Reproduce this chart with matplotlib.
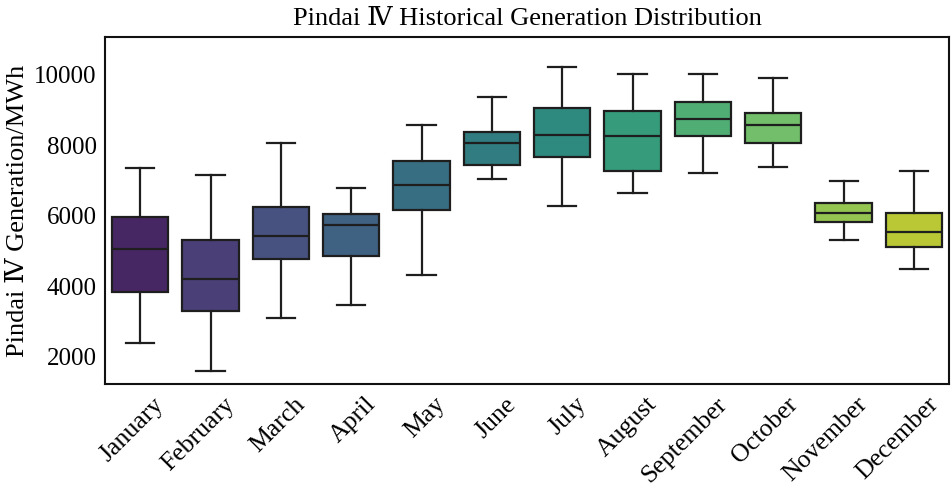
import matplotlib
matplotlib.use('Agg')
import matplotlib.pyplot as plt
import matplotlib.transforms as mtransforms
import seaborn as sns

months = ['January', 'February', 'March', 'April', 'May', 'June',
          'July', 'August', 'September', 'October', 'November', 'December']
whis_low = [2405, 1600, 3116, 3475, 4337, 7036, 6288, 6638, 7206, 7386, 5313, 4498]
q1 = [3854, 3305, 4763, 4867, 6165, 7453, 7670, 7273, 8277, 8068, 5814, 5114]
medians = [5047, 4223, 5436, 5729, 6884, 8059, 8295, 8277, 8741, 8570, 6080, 5540]
q3 = [5956, 5313, 6259, 6051, 7557, 8381, 9063, 8977, 9233, 8911, 6364, 6089]
whis_high = [7367, 7159, 8078, 6799, 8580, 9384, 10227, 10019, 10019, 9915, 6998, 7263]


def make_plot():
    serif = ['Liberation Serif', 'DejaVu Serif']
    plt.rcParams['font.family'] = serif

    fig = plt.figure(figsize=(9.51, 4.88), dpi=100)
    ax = fig.add_axes([0.1104, 0.213, 0.8876, 0.711])

    stats = []
    for i, m in enumerate(months):
        stats.append(dict(label=m, whislo=whis_low[i], q1=q1[i], med=medians[i],
                          q3=q3[i], whishi=whis_high[i], fliers=[]))

    line_col = '#1e1e1e'
    bp = ax.bxp(stats, positions=range(len(months)), widths=0.8, patch_artist=True,
                showfliers=False,
                boxprops=dict(edgecolor=line_col, linewidth=1.6),
                medianprops=dict(color=line_col, linewidth=1.6),
                whiskerprops=dict(color=line_col, linewidth=1.6),
                capprops=dict(color=line_col, linewidth=1.6),
                capwidths=0.4)

    colors = sns.color_palette('viridis', len(months), desat=0.75)
    for patch, c in zip(bp['boxes'], colors):
        patch.set_facecolor(c)

    ax.set_xlim(-0.5, len(months) - 0.5)
    ax.set_ylim(1230, 11070)
    ax.set_yticks([2000, 4000, 6000, 8000, 10000])
    ax.tick_params(axis='both', length=0, labelsize=18, pad=6)
    ax.set_xticks(range(len(months)))
    ax.set_xticklabels(months, rotation=45, ha='right', va='top',
                       rotation_mode='anchor', fontsize=18.5)
    # nudge the rotated month labels so their ends sit right of the ticks
    shift = mtransforms.ScaledTranslation(0.13, -0.01, fig.dpi_scale_trans)
    for lbl in ax.get_xticklabels():
        lbl.set_transform(lbl.get_transform() + shift)
    for s in ax.spines.values():
        s.set_linewidth(1.5)
        s.set_color('#111111')

    ax.set_ylabel('Pindai \u2163 Generation/MWh', fontsize=19, labelpad=4)
    ax.set_title('Pindai \u2163 Historical Generation Distribution', fontsize=19, pad=9)

    fig.savefig('out.png', dpi=100)


if __name__ == '__main__':
    make_plot()
